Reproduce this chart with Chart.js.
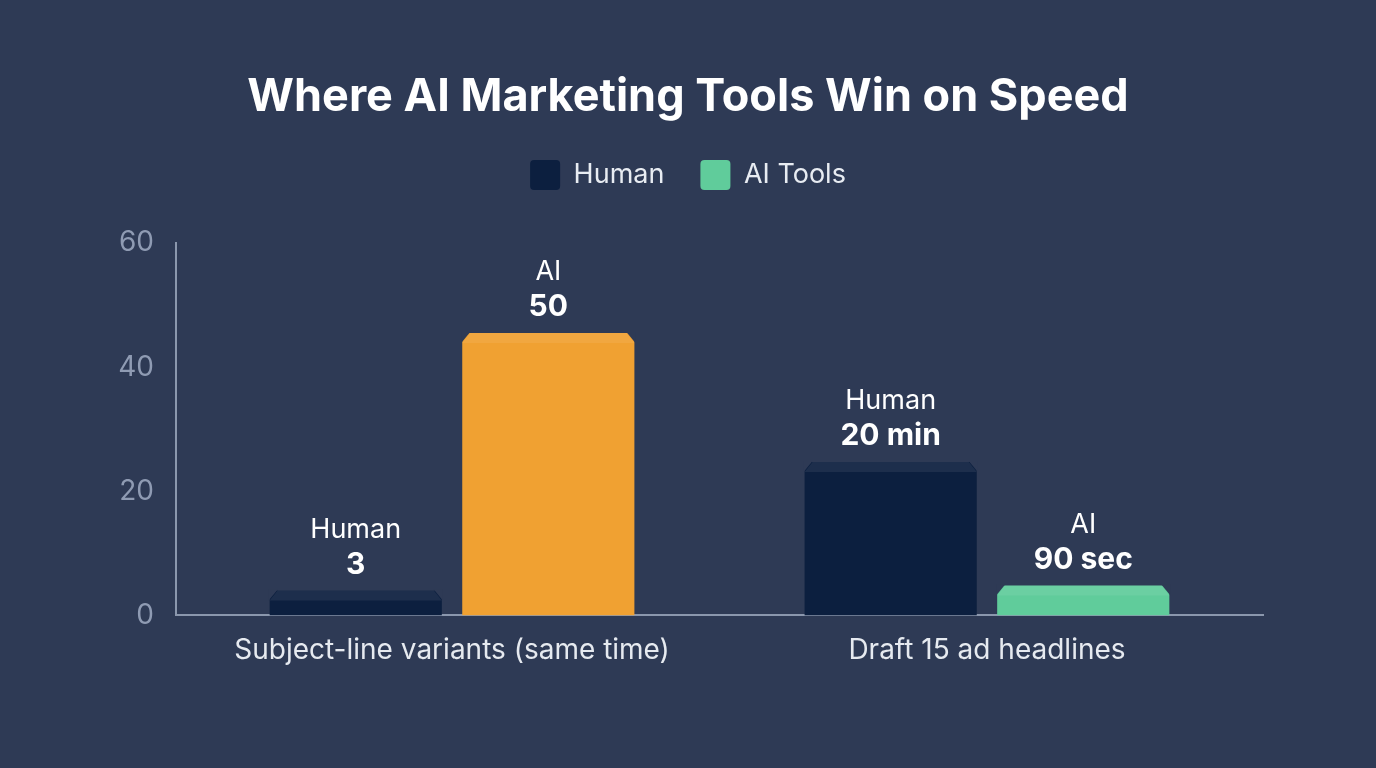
<!DOCTYPE html>
<html>
<head>
<meta charset="utf-8">
<script src="https://cdn.jsdelivr.net/npm/chart.js@4.4.1/dist/chart.umd.min.js"></script>
<style>
  html, body { margin: 0; padding: 0; background: #2e3a55; }
  #wrap { width: 1376px; height: 768px; }
</style>
</head>
<body>
<div id="wrap"><canvas id="c" width="1376" height="768"></canvas></div>
<script>
const categories = ['Subject-line variants (same time)', 'Draft 15 ad headlines'];
const seriesNames = ['Human', 'AI Tools'];
const humanValues = [4, 24.7];
const aiValues = [45.5, 4.8];
const humanLabels = ['3', '20 min'];
const aiLabels = ['50', '90 sec'];
const barNames = ['Human', 'AI'];
const yTicks = [0, 20, 40, 60];

const BG = '#2e3a55';
const NAVY = '#0c1f3f';
const ORANGE = '#f0a132';
const GREEN = '#60cc9b';
const FONT = 'Inter, "Open Sans", sans-serif';

const toPoints = (vals) => vals.map((v, i) => ({ x: i, y: v }));

const bgPlugin = {
  id: 'bg',
  beforeDraw(chart) {
    const ctx = chart.ctx;
    ctx.save();
    ctx.fillStyle = BG;
    ctx.fillRect(0, 0, chart.width, chart.height);
    ctx.restore();
  }
};

const legendMargin = {
  id: 'legendMargin',
  beforeLayout(chart) {
    const lg = chart.legend;
    if (lg && !lg._patched) {
      const fit = lg.fit;
      lg.fit = function () { fit.call(this); this.height += 43; };
      lg._patched = true;
    }
  }
};

const barLabelPlugin = {
  id: 'barLabels',
  afterDatasetsDraw(chart) {
    const ctx = chart.ctx;
    const texts = [humanLabels, aiLabels];
    chart.data.datasets.forEach((ds, di) => {
      const meta = chart.getDatasetMeta(di);
      meta.data.forEach((el, i) => {
        const w = el.width;
        const left = el.x - w / 2;
        const right = left + w;
        const top = el.y;
        ctx.save();
        // cut top corners (bevel)
        ctx.fillStyle = BG;
        ctx.beginPath();
        ctx.moveTo(left - 1, top - 1);
        ctx.lineTo(left + 8, top - 1);
        ctx.lineTo(left - 1, top + 10);
        ctx.closePath();
        ctx.fill();
        ctx.beginPath();
        ctx.moveTo(right + 1, top - 1);
        ctx.lineTo(right - 8, top - 1);
        ctx.lineTo(right + 1, top + 10);
        ctx.closePath();
        ctx.fill();
        // bevel band
        ctx.fillStyle = 'rgba(255,255,255,0.07)';
        ctx.beginPath();
        ctx.moveTo(left, top + 10);
        ctx.lineTo(left + 8, top);
        ctx.lineTo(right - 8, top);
        ctx.lineTo(right, top + 10);
        ctx.closePath();
        ctx.fill();
        ctx.restore();

        ctx.save();
        ctx.textAlign = 'center';
        ctx.textBaseline = 'middle';
        ctx.fillStyle = '#ffffff';
        ctx.font = '400 27px ' + FONT;
        ctx.fillText(barNames[di], el.x, el.y - 61);
        ctx.font = '700 30px ' + FONT;
        ctx.fillText(texts[di][i], el.x, el.y - 26);
        ctx.restore();
      });
    });
  }
};

new Chart(document.getElementById('c'), {
  type: 'bar',
  data: {
    datasets: [
      {
        label: seriesNames[0],
        data: toPoints(humanValues),
        backgroundColor: NAVY,
        borderSkipped: 'bottom',
        categoryPercentage: 0.72,
        barPercentage: 0.894
      },
      {
        label: seriesNames[1],
        data: toPoints(aiValues),
        backgroundColor: [ORANGE, GREEN],
        borderSkipped: 'bottom',
        categoryPercentage: 0.72,
        barPercentage: 0.894
      }
    ]
  },
  options: {
    responsive: false,
    animation: false,
    devicePixelRatio: 1,
    layout: { padding: { left: 113, right: 113, top: 0, bottom: 83 } },
    plugins: {
      title: {
        display: true,
        text: 'Where AI Marketing Tools Win on Speed',
        color: '#ffffff',
        font: { family: FONT, size: 45, weight: '700' },
        padding: { top: 70, bottom: 0 }
      },
      legend: {
        display: true,
        position: 'top',
        labels: {
          color: '#e8ecf2',
          font: { family: FONT, size: 27 },
          boxWidth: 30,
          boxHeight: 30,
          useBorderRadius: true,
          borderRadius: 4,
          padding: 36,
          generateLabels(chart) {
            return [
              { text: seriesNames[0], fillStyle: NAVY, strokeStyle: NAVY, lineWidth: 0, datasetIndex: 0, fontColor: '#e8ecf2', borderRadius: 4 },
              { text: seriesNames[1], fillStyle: GREEN, strokeStyle: GREEN, lineWidth: 0, datasetIndex: 1, fontColor: '#e8ecf2', borderRadius: 4 }
            ];
          }
        }
      },
      tooltip: { enabled: false }
    },
    scales: {
      x: {
        type: 'linear',
        offset: false,
        min: -0.516,
        max: 1.516,
        afterBuildTicks(scale) { scale.ticks = categories.map((c, i) => ({ value: i })); },
        grid: { display: false, drawTicks: false, offset: false },
        border: { display: true, color: '#8b97ad', width: 2 },
        ticks: {
          color: '#e6eaf0',
          font: { family: FONT, size: 28 },
          padding: 18,
          maxRotation: 0,
          autoSkip: false,
          callback: (v) => categories[v]
        }
      },
      y: {
        min: 0,
        max: 60,
        afterBuildTicks(scale) { scale.ticks = yTicks.map(v => ({ value: v })); },
        afterFit(scale) { scale.width = 63; },
        grid: { display: false, drawTicks: false },
        border: { display: true, color: '#8b97ad', width: 2 },
        ticks: {
          color: '#8f9bb3',
          font: { family: FONT, size: 28 },
          padding: 22
        }
      }
    }
  },
  plugins: [bgPlugin, legendMargin, barLabelPlugin]
});
</script>
</body>
</html>
